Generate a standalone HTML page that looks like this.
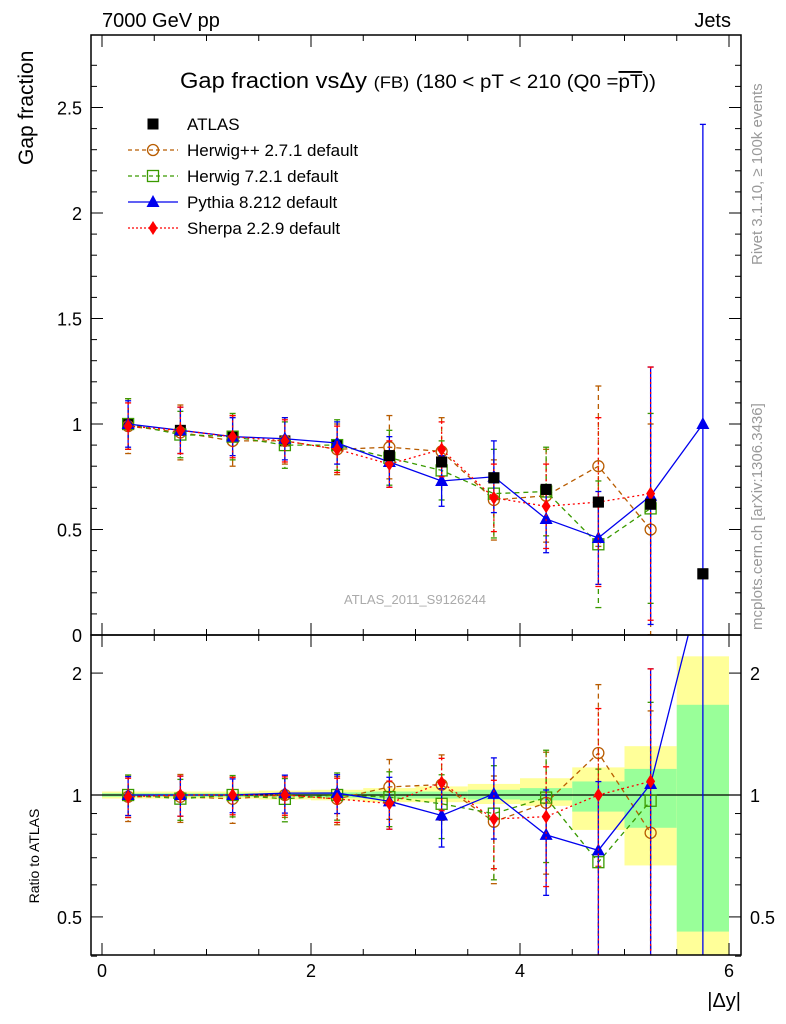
<!DOCTYPE html>
<html><head><meta charset="utf-8">
<style>
html,body{margin:0;padding:0;background:#fff;width:786px;height:1024px;overflow:hidden}
svg{display:block;font-family:"Liberation Sans",sans-serif}
</style></head><body>
<svg id="c" width="786" height="1024" xmlns="http://www.w3.org/2000/svg">
<text x="102" y="27" font-size="20">7000 GeV pp</text>
<text x="731" y="27" font-size="20" text-anchor="end">Jets</text>
<text x="418" y="88" font-size="22" text-anchor="middle" textLength="476" lengthAdjust="spacingAndGlyphs">Gap fraction vsΔy <tspan font-size="17">(FB)</tspan> <tspan font-size="19">(180 &lt; pT &lt; 210 (Q0 =<tspan text-decoration="overline">pT</tspan>))</tspan></text>
<text x="0" y="0" font-size="21" transform="translate(33,165) rotate(-90)" text-anchor="start">Gap fraction</text>
<text x="0" y="0" font-size="14" transform="translate(39,856) rotate(-90)" text-anchor="middle">Ratio to ATLAS</text>
<text x="741" y="1007" font-size="20" text-anchor="end">|Δy|</text>
<text x="0" y="0" font-size="15" fill="#999" transform="translate(762,265) rotate(-90)">Rivet 3.1.10, ≥ 100k events</text>
<text x="0" y="0" font-size="15" fill="#999" transform="translate(762,630) rotate(-90)">mcplots.cern.ch [arXiv:1306.3436]</text>
<text x="415" y="604" font-size="13" fill="#aaa" text-anchor="middle">ATLAS_2011_S9126244</text>
<g id="bands"></g><g id="series"></g><g id="axes"></g><g id="legend"></g>
</svg>
<script>
const binLo=[0,0.5,1,1.5,2,2.5,3,3.5,4,4.5,5,5.5];
const binHi=[0.5,1,1.5,2,2.5,3,3.5,4,4.5,5,5.5,6];
const atlas=[1.0,0.97,0.94,0.92,0.90,0.85,0.82,0.745,0.69,0.63,0.62,0.29];
const greenLo=[0.99,0.99,0.99,0.99,0.985,0.98,0.98,0.975,0.97,0.91,0.83,0.46];
const greenHi=[1.01,1.01,1.01,1.01,1.015,1.02,1.02,1.03,1.04,1.08,1.16,1.67];
const yellowLo=[0.98,0.98,0.98,0.975,0.97,0.96,0.96,0.95,0.94,0.82,0.67,0.30];
const yellowHi=[1.02,1.02,1.02,1.025,1.03,1.04,1.05,1.065,1.10,1.17,1.32,2.2];
const herwigpp=[0.99,0.96,0.92,0.92,0.88,0.89,0.87,0.64,0.66,0.80,0.50];
const herwigppErr=[0.13,0.13,0.12,0.11,0.12,0.15,0.16,0.19,0.22,0.38,0.5];
const herwig7=[1.0,0.95,0.94,0.90,0.90,0.84,0.78,0.67,0.68,0.43,0.60];
const herwig7Err=[0.12,0.11,0.11,0.11,0.12,0.13,0.14,0.21,0.21,0.30,0.45];
const pythia=[1.0,0.97,0.94,0.93,0.91,0.82,0.73,0.75,0.55,0.46,0.66,1.0];
const pythiaErr=[0.11,0.11,0.09,0.10,0.10,0.12,0.12,0.17,0.16,0.22,0.61,1.42];
const sherpa=[0.99,0.97,0.94,0.92,0.88,0.81,0.88,0.65,0.61,0.63,0.67];
const sherpaErr=[0.11,0.11,0.10,0.10,0.11,0.11,0.13,0.16,0.2,0.4,0.6];
const mainTicks=[0,0.5,1,1.5,2,2.5];
const mainTickLabels=["0","0.5","1","1.5","2","2.5"];
const ratioTicks=[0.5,1,2];
const ratioTickLabels=["0.5","1","2"];
const xTicks=[0,2,4,6];
const xTickLabels=["0","2","4","6"];

const NS="http://www.w3.org/2000/svg";
const L=91,R=741,T=35,MB=635,B=955;
const X=v=>102+104.5*v;
const Y=v=>635-211*v;
const YR=r=>795-405*Math.log10(r);
function mk(tag,attrs,parent){const e=document.createElementNS(NS,tag);for(const k in attrs)e.setAttribute(k,attrs[k]);parent.appendChild(e);return e;}
const bands=document.getElementById('bands'),ser=document.getElementById('series'),ax=document.getElementById('axes'),lg=document.getElementById('legend');
const clipA=mk('clipPath',{id:'cm'},document.getElementById('c'));mk('rect',{x:L,y:T,width:R-L,height:MB-T},clipA);
const clipB=mk('clipPath',{id:'cr'},document.getElementById('c'));mk('rect',{x:L,y:MB,width:R-L,height:B-MB},clipB);
bands.setAttribute('clip-path','url(#cr)');
for(let i=0;i<binLo.length;i++){
  const y=mk('rect',{x:X(binLo[i]),y:YR(yellowHi[i]),width:X(binHi[i])-X(binLo[i]),height:YR(yellowLo[i])-YR(yellowHi[i]),fill:'#ffff99'},bands);
  
  
  const g=mk('rect',{x:X(binLo[i]),y:YR(greenHi[i]),width:X(binHi[i])-X(binLo[i]),height:YR(greenLo[i])-YR(greenHi[i]),fill:'#99ff99'},bands);
  
  
}
mk('line',{x1:L,x2:R,y1:YR(1),y2:YR(1),stroke:'#000','stroke-width':1.3},bands);
const cen=i=>(binLo[i]+binHi[i])/2;
function marker(type,col,cx,cy,p,name){
  let e;
  if(type==='circle')e=mk('circle',{cx,cy,r:5.5,fill:'none',stroke:col,'stroke-width':1.3},p);
  else if(type==='square')e=mk('rect',{x:cx-5.5,y:cy-5.5,width:11,height:11,fill:'none',stroke:col,'stroke-width':1.3},p);
  else if(type==='fsquare')e=mk('rect',{x:cx-5.5,y:cy-5.5,width:11,height:11,fill:col},p);
  else if(type==='tri')e=mk('polygon',{points:`${cx},${cy-7} ${cx-6.5},${cy+5} ${cx+6.5},${cy+5}`,fill:col},p);
  else e=mk('polygon',{points:`${cx},${cy-7} ${cx-4.5},${cy} ${cx},${cy+7} ${cx+4.5},${cy}`,fill:col},p);
  
  
}
const seriesDefs=[
 {v:herwigpp,e:herwigppErr,col:'#b85c00',dash:'5,4',m:'circle',n:'herwigpp'},
 {v:herwig7,e:herwig7Err,col:'#3a9a00',dash:'5,4',m:'square',n:'herwig7'},
 {v:pythia,e:pythiaErr,col:'#0000ee',dash:'',m:'tri',n:'pythia'},
 {v:sherpa,e:sherpaErr,col:'#ff0000',dash:'2,3',m:'diamond',n:'sherpa'}];
function drawPanel(isRatio){
  const g=mk('g',{'clip-path':isRatio?'url(#cr)':'url(#cm)'},ser);
  const yf=isRatio?(v,i)=>YR(Math.max(v/atlas[i],0.01)):(v)=>Y(v);
  if(!isRatio) atlas.forEach((v,i)=>marker('fsquare','#000',X(cen(i)),Y(v),g,'atlas-point'));
  for(const s of seriesDefs){
    const pts=s.v.map((v,i)=>X(cen(i))+','+yf(v,i)).join(' ');
    const pl=mk('polyline',{points:pts,fill:'none',stroke:s.col,'stroke-width':1.3,'stroke-dasharray':s.dash},g);
    
    
    s.v.forEach((v,i)=>{
      const cx=X(cen(i));
      const lo=Math.max(v-s.e[i],0.001),hi=v+s.e[i];
      const y1=yf(hi,i),y2=yf(lo,i);
      mk('line',{x1:cx,x2:cx,y1,y2,stroke:s.col,'stroke-width':1.3,'stroke-dasharray':s.dash},g);
      mk('line',{x1:cx-3,x2:cx+3,y1,y2:y1,stroke:s.col,'stroke-width':1.3},g);
      mk('line',{x1:cx-3,x2:cx+3,y1:y2,y2:y2,stroke:s.col,'stroke-width':1.3},g);
      marker(s.m,s.col,cx,yf(v,i),g,s.n+(isRatio?'-ratio-point':'-point'));
    });
  }
  if(!isRatio) atlas.forEach((v,i)=>{if(i>=5)marker('fsquare','#000',X(cen(i)),Y(v),g,'atlas-point');});
}
drawPanel(false);drawPanel(true);
mk('rect',{x:L,y:T,width:R-L,height:MB-T,fill:'none',stroke:'#000','stroke-width':1.5},ax);
mk('rect',{x:L,y:MB,width:R-L,height:B-MB,fill:'none',stroke:'#000','stroke-width':1.5},ax);
for(let v=0;v<=6.01;v+=0.5){
  const big=Math.abs(v-Math.round(v))<0.01 && (Math.round(v)%2===0);
  const len=big?12:6;
  for(const [y0,d] of [[T,1],[MB,-1],[MB,1],[B,-1]]) mk('line',{x1:X(v),x2:X(v),y1:y0,y2:y0+d*len,stroke:'#000','stroke-width':1},ax);
}
for(let v=0;v<=2.8;v+=0.1){
  const big=Math.abs(v*2-Math.round(v*2))<0.01;const len=big?12:6;
  mk('line',{x1:L,x2:L+len,y1:Y(v),y2:Y(v),stroke:'#000'},ax);
  mk('line',{x1:R,x2:R-len,y1:Y(v),y2:Y(v),stroke:'#000'},ax);
}
mainTicks.forEach((v,i)=>{const t=mk('text',{x:82,y:Y(v)+7,'font-size':18,'text-anchor':'end'},ax);t.textContent=mainTickLabels[i];
 
 });
for(const r of [0.4,0.5,0.6,0.7,0.8,0.9,1,2]){
  const big=ratioTicks.includes(r);const len=big?12:6;
  mk('line',{x1:L,x2:L+len,y1:YR(r),y2:YR(r),stroke:'#000'},ax);
  mk('line',{x1:R,x2:R-len,y1:YR(r),y2:YR(r),stroke:'#000'},ax);
}
ratioTicks.forEach((v,i)=>{
 const t=mk('text',{x:82,y:YR(v)+7,'font-size':18,'text-anchor':'end'},ax);t.textContent=ratioTickLabels[i];
 
 
 const t2=mk('text',{x:750,y:YR(v)+7,'font-size':18},ax);t2.textContent=ratioTickLabels[i];
 
 });
xTicks.forEach((v,i)=>{const t=mk('text',{x:X(v),y:977,'font-size':18,'text-anchor':'middle'},ax);t.textContent=xTickLabels[i];
 
 });
const leg=[['ATLAS','#000','','fsquare'],['Herwig++ 2.7.1 default','#b85c00','4,3','circle'],['Herwig 7.2.1 default','#3a9a00','4,3','square'],['Pythia 8.212 default','#0000ee','','tri'],['Sherpa 2.2.9 default','#ff0000','2,2','diamond']];
leg.forEach((l,i)=>{
  const y=124+i*26;
  const g=mk('g',{},lg);
  
  
  if(i>0) mk('line',{x1:128,x2:178,y1:y,y2:y,stroke:l[1],'stroke-width':1.3,'stroke-dasharray':l[2]},g);
  marker(l[3],l[1],153,y,g,'legend-marker');
  const t=mk('text',{x:187,y:y+6,'font-size':17},g);t.textContent=l[0];
});
</script>
</body></html>
